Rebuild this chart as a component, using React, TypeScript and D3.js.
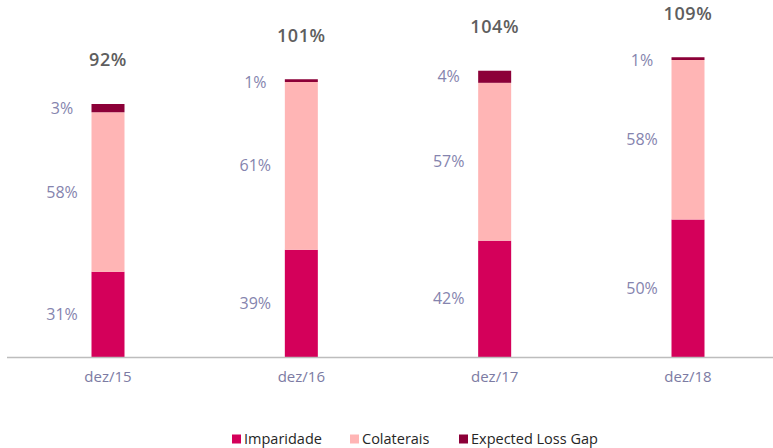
import React from 'react';
import * as d3 from 'd3';

const categories = ['dez/15', 'dez/16', 'dez/17', 'dez/18'];
const imparidade = [31, 39, 42.3, 50];
const colaterais = [58, 61, 57.4, 58];
const expectedLossGap = [3, 1, 4.4, 1];
const totals = [92, 101, 104, 109];
const seriesNames = ['Imparidade', 'Colaterais', 'Expected Loss Gap'];
const seriesColors = ['#d4005a', '#ffb5b5', '#8c0038'];

const W = 773;
const H = 448;
const FONT = '"Open Sans", "DejaVu Sans", sans-serif';

export default function App() {
  const rows = categories.map((c, i) => ({
    cat: c,
    s0: imparidade[i],
    s1: colaterais[i],
    s2: expectedLossGap[i],
  }));
  const keys = ['s0', 's1', 's2'];
  const stacked = d3.stack<any>().keys(keys)(rows);

  const x = d3.scalePoint<string>().domain(categories).range([108, 688]);
  const y = d3.scaleLinear().domain([0, 100]).range([357, 82]);
  const barW = 33;

  const legendX = [232, 350, 459];

  return (
    <svg
      width={W}
      height={H}
      style={{ position: 'absolute', left: 0, top: 0, background: '#fff' }}
      fontFamily={FONT}
    >
      {stacked.map((layer, li) => (
        <g key={li} fill={seriesColors[li]}>
          {layer.map((d, i) => {
            const cx = x(categories[i]) as number;
            return (
              <rect
                key={i}
                x={cx - barW / 2}
                y={y(d[1])}
                width={barW}
                height={y(d[0]) - y(d[1])}
              />
            );
          })}
        </g>
      ))}
      {stacked.map((layer, li) => (
        <g key={'l' + li} fill="#8584ae" fontSize={16} textAnchor="middle">
          {layer.map((d, i) => {
            const cx = x(categories[i]) as number;
            const v = d[1] - d[0];
            const cy = (y(d[0]) + y(d[1])) / 2 + (v < 2 ? 2 : 0);
            return (
              <text key={i} x={cx - 46} y={cy} dy="0.35em">
                {Math.round(v) + '%'}
              </text>
            );
          })}
        </g>
      ))}
      {categories.map((c, i) => {
        const top = stacked[2][i][1];
        return (
          <text
            key={'t' + c}
            x={x(c) as number}
            y={y(top) - 44}
            dy="0.35em"
            textAnchor="middle"
            fontSize={18}
            fontWeight={600}
            fill="#5e5e5e"
            letterSpacing={0.6}
          >
            {totals[i] + '%'}
          </text>
        );
      })}
      <line x1={7} x2={W} y1={y(0) + 0.5} y2={y(0) + 0.5} stroke="#bdbdbd" strokeWidth={1.5} />
      {categories.map((c) => (
        <text
          key={'c' + c}
          x={x(c) as number}
          y={382}
          textAnchor="middle"
          fontSize={15}
          fill="#7c7ba3"
        >
          {c}
        </text>
      ))}
      {seriesNames.map((n, i) => (
        <g key={'lg' + n} transform={`translate(${legendX[i]},0)`}>
          <rect x={0} y={434.5} width={9} height={9} fill={seriesColors[i]} />
          <text x={12} y={444} fontSize={14.5} fill="#262626">
            {n}
          </text>
        </g>
      ))}
    </svg>
  );
}
